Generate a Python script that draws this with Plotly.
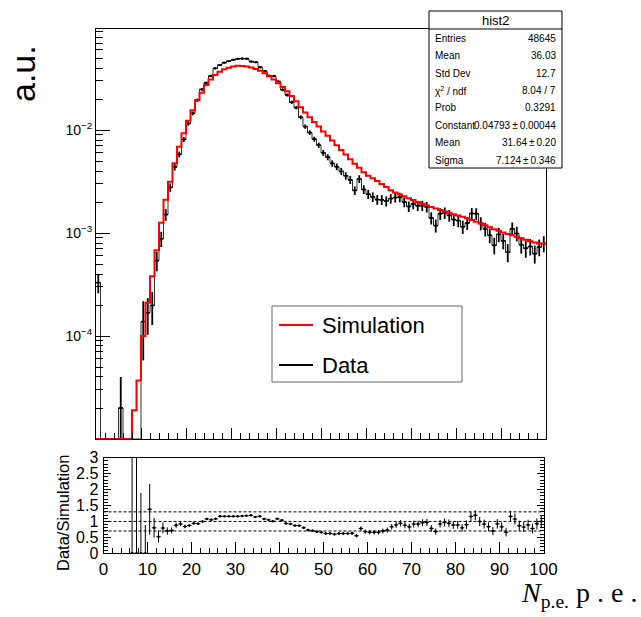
import plotly.graph_objects as go

W, H = 641, 617

# 100 bins of width 1 p.e. from 0 to 100
bin_edges = list(range(0, 101))

# Simulation (normalised), per bin
sim = [
    0, 0, 0, 0, 0, 0, 5e-6, 8e-6, 1.9e-5, 3.7e-5,
    1.0e-4, 2.1e-4, 3.8e-4, 6.8e-4, 1.26e-3, 2.1e-3, 3.15e-3, 4.75e-3, 6.9e-3, 9.3e-3,
    0.0123, 0.0156, 0.0195, 0.0230, 0.0273, 0.0310, 0.0342, 0.0368, 0.0389, 0.0403,
    0.0415, 0.0420, 0.0419, 0.0414, 0.0405, 0.0392, 0.0377, 0.0355, 0.0333, 0.0309,
    0.0285, 0.0262, 0.0238, 0.0214, 0.0190, 0.0166, 0.0148, 0.0133, 0.0120, 0.0108,
    0.0097, 0.0088, 0.0079, 0.0071, 0.0064, 0.0058, 0.0052, 0.0047, 0.0043, 0.0039,
    0.0036, 0.0034, 0.0032, 0.0030, 0.0028, 0.0026, 0.00248, 0.00237, 0.00227, 0.00218,
    0.00209, 0.00200, 0.00192, 0.00185, 0.00179, 0.00173, 0.00167, 0.00162, 0.00157, 0.00152,
    0.00148, 0.00144, 0.00139, 0.00134, 0.00129, 0.00124, 0.00119, 0.00114, 0.00109, 0.00105,
    0.00101, 0.00098, 0.00095, 0.00092, 0.00089, 0.00086, 0.00083, 0.00081, 0.00079, 0.00079,
]

# Data (normalised), per bin
data = [
    3.3e-4, 0, 0, 0, 0, 2.0e-5, 0, 0, 0, 0,
    1.38e-4, 1.68e-4, 1.98e-4, 5.4e-4, 8.8e-4, 1.51e-3, 2.77e-3, 4.37e-3, 5.8e-3, 8.1e-3,
    0.01156, 0.0145, 0.0195, 0.0248, 0.0287, 0.0335, 0.0397, 0.0427, 0.0451, 0.0467,
    0.0481, 0.0491, 0.0494, 0.0493, 0.0462, 0.0455, 0.0407, 0.0373, 0.0336, 0.0334,
    0.0296, 0.0246, 0.0219, 0.0186, 0.0165, 0.0133, 0.0108, 0.00944, 0.00816, 0.00713,
    0.00601, 0.00546, 0.00474, 0.00440, 0.00397, 0.00360, 0.00328, 0.00259, 0.00335, 0.00265,
    0.00238, 0.00224, 0.00211, 0.00210, 0.00204, 0.00216, 0.00221, 0.00223, 0.00200, 0.00181,
    0.00192, 0.00184, 0.00184, 0.00179, 0.00140, 0.00118, 0.00154, 0.00157, 0.00148, 0.00135,
    0.00132, 0.00115, 0.00125, 0.00155, 0.00154, 0.00124, 0.00109, 0.00095, 0.00076, 0.00097,
    0.00084, 0.00065, 0.00110, 0.00099, 0.00077, 0.00071, 0.00074, 0.00063, 0.00073, 0.00079,
]

# Statistical uncertainty on the data, per bin
data_err = [
    7.0e-5, 0, 0, 0, 0, 2.0e-5, 3.6e-5, 3.6e-5, 3.6e-5, 3.3e-5,
    8.0e-5, 6.5e-5, 7.0e-5, 1.16e-4, 1.48e-4, 1.94e-4, 2.6e-4, 3.3e-4, 3.8e-4, 4.5e-4,
    5.4e-4, 6.0e-4, 7.0e-4, 7.9e-4, 8.5e-4, 9.2e-4, 1.0e-3, 1.03e-3, 1.06e-3, 1.08e-3,
    1.10e-3, 1.11e-3, 1.11e-3, 1.11e-3, 1.07e-3, 1.07e-3, 1.01e-3, 9.7e-4, 9.2e-4, 9.1e-4,
    8.6e-4, 7.8e-4, 7.4e-4, 6.8e-4, 6.4e-4, 5.8e-4, 5.2e-4, 4.9e-4, 4.5e-4, 4.2e-4,
    3.9e-4, 3.7e-4, 3.4e-4, 3.3e-4, 3.2e-4, 3.0e-4, 2.9e-4, 2.5e-4, 2.9e-4, 2.6e-4,
    2.4e-4, 2.4e-4, 2.3e-4, 2.3e-4, 2.3e-4, 2.3e-4, 2.35e-4, 2.36e-4, 2.2e-4, 2.1e-4,
    2.2e-4, 2.1e-4, 2.1e-4, 2.1e-4, 1.9e-4, 1.7e-4, 2.0e-4, 2.0e-4, 1.9e-4, 1.8e-4,
    1.8e-4, 1.7e-4, 1.8e-4, 2.0e-4, 2.0e-4, 1.8e-4, 1.65e-4, 1.55e-4, 1.4e-4, 1.55e-4,
    1.45e-4, 1.3e-4, 1.65e-4, 1.6e-4, 1.4e-4, 1.35e-4, 1.35e-4, 1.25e-4, 1.35e-4, 1.4e-4,
]

# Fit/statistics box content
stat_title = "hist2"
stat_labels = ["Entries", "Mean", "Std Dev", "χ<sup>2</sup> / ndf", "Prob",
               "Constant", "Mean", "Sigma"]
stat_values = ["48645", "36.03", "12.7", "8.04 / 7", "0.3291",
               "0.04793\u2009±\u20090.00044", "31.64\u2009±\u20090.20", "7.124\u2009±\u20090.346"]

legend_labels = ["Simulation", "Data"]
legend_colors = ["#ff0000", "#000000"]

ratio_ref_lines = [0.7, 1.0, 1.3]

YMIN_LOG, YMAX_LOG = -5.0, -1.019
FLOOR = 10 ** YMIN_LOG

SANS = "Liberation Sans, Arial, Helvetica, sans-serif"
SERIF = "Liberation Serif, Times New Roman, serif"


def px(x):
    return x / W


def py(y):
    return 1 - y / H


centers = [e + 0.5 for e in bin_edges[:-1]]


def step(vals):
    v = [max(a, FLOOR) for a in vals]
    return v + [v[-1]]


fig = go.Figure()

# --- upper pad: data and simulation spectra -------------------------------
fig.add_trace(go.Scatter(
    x=bin_edges, y=step(data), mode="lines", line=dict(color="#333333", width=1, shape="hv"),
    xaxis="x", yaxis="y", showlegend=False, hoverinfo="skip"))

dx = [c for c, d in zip(centers, data) if d > 0]
dy = [d for d in data if d > 0]
de = [e for d, e in zip(data, data_err) if d > 0]
de_lo = [min(e, d * 0.999) for d, e in zip(dy, de)]
fig.add_trace(go.Scatter(
    x=dx, y=dy, mode="markers", marker=dict(color="black", size=2),
    error_y=dict(type="data", array=de, arrayminus=de_lo, color="black", thickness=1.8, width=0),
    error_x=dict(type="constant", value=0.5, color="black", thickness=1.5, width=0),
    xaxis="x", yaxis="y", showlegend=False))

fig.add_trace(go.Scatter(
    x=bin_edges, y=step(sim), mode="lines", line=dict(color="#ff0000", width=2, shape="hv"),
    xaxis="x", yaxis="y", showlegend=False, hoverinfo="skip"))

# --- lower pad: data / simulation ratio -----------------------------------
rx, ry, re = [], [], []
for c, d, e, s in zip(centers, data, data_err, sim):
    if s > 0 and (d > 0 or e > 0):
        rx.append(c)
        ry.append(d / s)
        re.append(e / s)

fig.add_trace(go.Scatter(
    x=rx, y=ry, mode="markers", marker=dict(color="black", size=2.5),
    error_y=dict(type="data", array=re, color="black", thickness=1, width=0),
    error_x=dict(type="constant", value=0.5, color="black", thickness=1, width=0),
    xaxis="x2", yaxis="y2", showlegend=False))

# --- axes ------------------------------------------------------------------
top_x = [96, 546]
top_y = [29, 439]
bot_x = [103.5, 543.5]
bot_y = [457.7, 553.3]

minor_log = []
for dec in range(-5, -1):
    for m in range(2, 10):
        val = m * 10 ** dec
        if val <= 10 ** YMAX_LOG:
            minor_log.append(val)

fig.update_layout(
    width=W, height=H, margin=dict(l=0, r=0, t=0, b=0, autoexpand=False),
    paper_bgcolor="white", plot_bgcolor="white",
    font=dict(family=SANS, color="black"),
    xaxis=dict(
        domain=[px(top_x[0]), px(top_x[1])], anchor="y", range=[0, 100], automargin=False,
        showticklabels=False, ticks="inside", ticklen=11, tickwidth=1, tickcolor="black",
        tick0=0, dtick=10,
        minor=dict(ticks="inside", ticklen=6, tickwidth=1, tickcolor="black", tick0=0, dtick=2,
                   showgrid=False),
        showline=True, linecolor="black", linewidth=1, mirror=True,
        showgrid=False, zeroline=False),
    yaxis=dict(
        domain=[py(top_y[1]), py(top_y[0])], anchor="x", type="log", automargin=False,
        range=[YMIN_LOG, YMAX_LOG],
        tickvals=[1e-4, 1e-3, 1e-2],
        ticktext=["10<sup>−4</sup>", "10<sup>−3</sup>", "10<sup>−2</sup>"],
        tickfont=dict(size=14, family=SANS),
        ticks="inside", ticklen=14, tickwidth=1, tickcolor="black",
        minor=dict(ticks="inside", ticklen=7, tickwidth=1, tickcolor="black",
                   tickvals=minor_log, showgrid=False),
        showline=True, linecolor="black", linewidth=1, mirror=True,
        showgrid=False, zeroline=False),
    xaxis2=dict(
        domain=[px(bot_x[0]), px(bot_x[1])], anchor="y2", range=[0, 100], automargin=False,
        tick0=0, dtick=10, tickfont=dict(size=17, family=SANS),
        ticks="inside", ticklen=11, tickwidth=1, tickcolor="black",
        minor=dict(ticks="inside", ticklen=5, tickwidth=1, tickcolor="black", tick0=0, dtick=2,
                   showgrid=False),
        showline=True, linecolor="black", linewidth=1, mirror=True,
        showgrid=False, zeroline=False),
    yaxis2=dict(
        domain=[py(bot_y[1]), py(bot_y[0])], anchor="x2", range=[0, 3], automargin=False,
        tickvals=[0, 0.5, 1, 1.5, 2, 2.5, 3],
        ticktext=["0", "0.5", "1", "1.5", "2", "2.5", "3"],
        tickfont=dict(size=16, family=SANS), ticklabelstandoff=1,
        ticks="inside", ticklen=7, tickwidth=1, tickcolor="black",
        minor=dict(ticks="inside", ticklen=4, tickwidth=1, tickcolor="black", tick0=0, dtick=0.1,
                   showgrid=False),
        showline=True, linecolor="black", linewidth=1, mirror="ticks",
        showgrid=False, zeroline=False),
)

shapes = []
for yv in ratio_ref_lines:
    shapes.append(dict(type="line", xref="x2", yref="y2", x0=0, x1=100, y0=yv, y1=yv,
                       line=dict(color="black", width=1, dash="3px,2px")))

# statistics box
sb = dict(x0=429, x1=562, y0=11, y1=168, sep=29)
shapes.append(dict(type="rect", xref="paper", yref="paper", layer="above",
                   x0=px(sb["x0"]), x1=px(sb["x1"]), y0=py(sb["y1"]), y1=py(sb["y0"]),
                   fillcolor="white", line=dict(color="black", width=1)))
shapes.append(dict(type="line", xref="paper", yref="paper", layer="above",
                   x0=px(sb["x0"]), x1=px(sb["x1"]), y0=py(sb["sep"]), y1=py(sb["sep"]),
                   line=dict(color="black", width=1)))

# legend box
lb = dict(x0=272, x1=462, y0=306, y1=382)
shapes.append(dict(type="rect", xref="paper", yref="paper", layer="above",
                   x0=px(lb["x0"]), x1=px(lb["x1"]), y0=py(lb["y1"]), y1=py(lb["y0"]),
                   fillcolor="white", line=dict(color="#666666", width=1)))
leg_rows = [325, 365]
for yrow, col in zip(leg_rows, legend_colors):
    shapes.append(dict(type="line", xref="paper", yref="paper", layer="above",
                       x0=px(279), x1=px(313), y0=py(yrow), y1=py(yrow),
                       line=dict(color=col, width=2)))

annotations = []
annotations.append(dict(xref="paper", yref="paper", x=px(495.5), y=py(20), text=stat_title,
                        showarrow=False, font=dict(size=13, family=SANS),
                        xanchor="center", yanchor="middle"))
row_y = [38, 55.5, 73, 90.5, 108, 125.5, 143, 160]
for lab, val, yr in zip(stat_labels, stat_values, row_y):
    annotations.append(dict(xref="paper", yref="paper", x=px(433), y=py(yr), text=lab,
                            showarrow=False, font=dict(size=10, family=SANS),
                            xanchor="left", yanchor="middle"))
    annotations.append(dict(xref="paper", yref="paper", x=px(558), y=py(yr), text=val,
                            showarrow=False, font=dict(size=10, family=SANS),
                            xanchor="right", yanchor="middle"))

for yrow, lab in zip(leg_rows, legend_labels):
    annotations.append(dict(xref="paper", yref="paper", x=px(320), y=py(yrow), text=lab,
                            showarrow=False, font=dict(size=22, family=SANS),
                            xanchor="left", yanchor="middle"))

annotations.append(dict(xref="paper", yref="paper", x=px(23), y=py(74), text="a.u.",
                        textangle=-90, showarrow=False, font=dict(size=34, family=SANS),
                        xanchor="center", yanchor="middle"))
annotations.append(dict(xref="paper", yref="paper", x=px(63), y=py(513), text="Data/Simulation",
                        textangle=-90, showarrow=False, font=dict(size=16.5, family=SANS),
                        xanchor="center", yanchor="middle"))
annotations.append(dict(xref="paper", yref="paper", x=px(639), y=py(594),
                        text="<i>N</i><sub>p.e.</sub> p . e .",
                        showarrow=False, font=dict(size=28, family=SERIF),
                        xanchor="right", yanchor="middle"))

fig.update_layout(shapes=shapes, annotations=annotations)

fig.write_html("out.html")
